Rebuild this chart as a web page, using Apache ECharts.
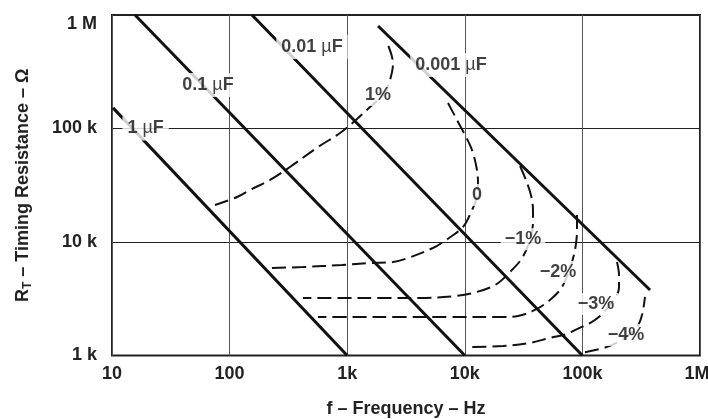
<!DOCTYPE html>
<html>
<head>
<meta charset="utf-8">
<script src="https://cdn.jsdelivr.net/npm/echarts@6/dist/echarts.min.js"></script>
<style>
html,body{margin:0;padding:0;background:#fff;}
#chart{width:708px;height:419px;}
</style>
</head>
<body>
<div id="chart"></div>
<script>
// ---- tick labels ----
const xTicks = [10, 100, 1000, 10000, 100000, 1000000];
const xTickLabels = ['10', '100', '1k', '10k', '100k', '1M'];
const yTicks = [1000, 10000, 100000, 1000000];
const yTickLabels = ['1 k', '10 k', '100 k', '1 M'];

// ---- capacitance lines [f (Hz), R (ohm)] ----
const cap1uF = [[10.2, 152000], [1000, 1000]];
const cap01uF = [[15.7, 1000000], [10000, 1000]];
const cap001uF = [[155, 1000000], [100000, 1000]];
const cap0001uF = [[1830, 800000], [376000, 3780]];

// ---- error contours [f (Hz), R (ohm)] ----
const errP1 = [[75, 21200], [116, 24900], [149, 28700], [221, 35200], [326, 45800], [565, 68700], [869, 91300], [1211, 121200], [1563, 154700], [2055, 201400], [2311, 267600], [2452, 377700], [2222, 544000]];
const err0 = [[7200, 167800], [8590, 118800], [10040, 87600], [11510, 64700], [12700, 43100], [12950, 31800], [12450, 23400], [11510, 19100], [9650, 13560], [6530, 10000], [5360, 8850], [3290, 7230], [2450, 6660], [1563, 6530], [903, 6270], [421, 6020], [229, 5900]];
const errM1 = [[29500, 46700], [33100, 35200], [36500, 25950], [38000, 19100], [38000, 15000], [35800, 10400], [30700, 7230], [24200, 5440], [18100, 4180], [11700, 3550], [8250, 3340], [4160, 3210], [1900, 3210], [869, 3210], [421, 3210]];
const errM2 = [[90000, 17300], [90000, 12760], [86500, 8500], [78500, 5900], [67100, 4010], [53000, 3080], [39500, 2520], [28400, 2230], [19900, 2180], [7480, 2180], [2810, 2180], [1056, 2180], [565, 2180]];
const errM3 = [[196800, 6660], [204700, 5120], [204700, 3930], [178500, 2960], [141100, 2230], [116000, 1930], [90000, 1710], [74000, 1550], [53000, 1430], [35800, 1290], [21100, 1210], [11070, 1190]];
const errM4 = [[105200, 1070], [161900, 1190], [230200, 1430], [291300, 1780], [321200, 2270], [340600, 3280]];

// ---- annotations ----
const capLabels = ['1 µF', '0.1 µF', '0.01 µF', '0.001 µF'];
const capLabelAt = [[19.3, 100000], [65.5, 242000], [502, 523000], [7630, 363000]];
const errLabels = ['1%', '0', '−1%', '−2%', '−3%', '−4%'];
const errLabelAt = [[1828, 197300], [12700, 25950], [31250, 10600], [62000, 5440], [130500, 2840], [234800, 1515]];

const FONT = '"Liberation Sans", Arial, Helvetica, sans-serif';
const INK = '#111';

function tickText(ticks, labels, v) {
  for (let i = 0; i < ticks.length; i++) {
    if (Math.abs(Math.log10(v) - Math.log10(ticks[i])) < 1e-6) return labels[i];
  }
  return '';
}

function solid(data) {
  return { type: 'line', data: data, symbol: 'none', showSymbol: false, silent: true,
    lineStyle: { color: INK, width: 3, type: 'solid', cap: 'butt' }, z: 4, animation: false };
}
function dashed(data) {
  return { type: 'line', data: data, symbol: 'none', showSymbol: false, silent: true, smooth: 0.35,
    lineStyle: { color: INK, width: 2, type: [14, 6] }, z: 3, animation: false };
}
function labelSeries(texts, at, pad) {
  return {
    type: 'scatter', silent: true, animation: false, z: 10, symbolSize: 0.1,
    itemStyle: { color: 'rgba(0,0,0,0)' },
    data: texts.map((t, i) => ({ name: t, value: at[i] })),
    label: {
      show: true, position: 'inside',
      formatter: p => p.name.replace('µ', '{m|µ}'),
      fontFamily: FONT, fontSize: 18, fontWeight: 'bold', color: INK,
      backgroundColor: '#fff', padding: pad,
      rich: { m: { fontFamily: FONT, fontSize: 18, fontWeight: 'normal', color: INK } }
    }
  };
}

const chart = echarts.init(document.getElementById('chart'), null, { renderer: 'canvas' });
chart.setOption({
  animation: false,
  backgroundColor: '#fff',
  grid: { left: 112, right: 8, top: 15, bottom: 63.5, containLabel: false, outerBoundsMode: 'none',
    show: true, borderColor: '#222', borderWidth: 2, backgroundColor: 'transparent' },
  xAxis: {
    type: 'log', logBase: 10, min: 10, max: 1000000,
    axisLine: { show: false }, axisTick: { show: false },
    splitLine: { show: true, lineStyle: { color: '#555', width: 1 } },
    minorSplitLine: { show: false },
    axisLabel: { fontFamily: FONT, fontSize: 18, fontWeight: 'bold', color: '#222', margin: 10,
      formatter: v => {
        const t = tickText(xTicks, xTickLabels, v);
        return v >= 999999 ? '{r|' + t + '}' : t;
      },
      rich: { r: { fontFamily: FONT, fontSize: 18, fontWeight: 'bold', color: '#222', padding: [0, 6, 0, 0] } } },
    name: 'f – Frequency – Hz', nameLocation: 'middle', nameGap: 45,
    nameTextStyle: { fontFamily: FONT, fontSize: 18, fontWeight: 'bold', color: '#222' }
  },
  yAxis: {
    type: 'log', logBase: 10, min: 1000, max: 1000000,
    axisLine: { show: false }, axisTick: { show: false },
    splitLine: { show: true, lineStyle: { color: '#222', width: 1 } },
    axisLabel: { fontFamily: FONT, fontSize: 18, fontWeight: 'bold', color: '#222', margin: 15,
      verticalAlignMaxLabel: 'top',
      formatter: v => tickText(yTicks, yTickLabels, v) },
    name: '{a|R}{s|T}{a| – Timing Resistance – Ω}', nameLocation: 'middle', nameGap: 78, nameRotate: 90,
    nameTextStyle: { fontFamily: FONT, fontSize: 18, fontWeight: 'bold', color: '#222',
      rich: {
        a: { fontFamily: FONT, fontSize: 18, fontWeight: 'bold', color: '#222', lineHeight: 22 },
        s: { fontFamily: FONT, fontSize: 12, fontWeight: 'bold', color: '#222', lineHeight: 12, verticalAlign: 'bottom' }
      } }
  },
  series: [
    solid(cap1uF), solid(cap01uF), solid(cap001uF), solid(cap0001uF),
    dashed(errP1), dashed(err0), dashed(errM1), dashed(errM2), dashed(errM3), dashed(errM4),
    labelSeries(capLabels, capLabelAt, [3, 5]),
    labelSeries(errLabels, errLabelAt, [2, 4])
  ]
});
</script>
</body>
</html>
